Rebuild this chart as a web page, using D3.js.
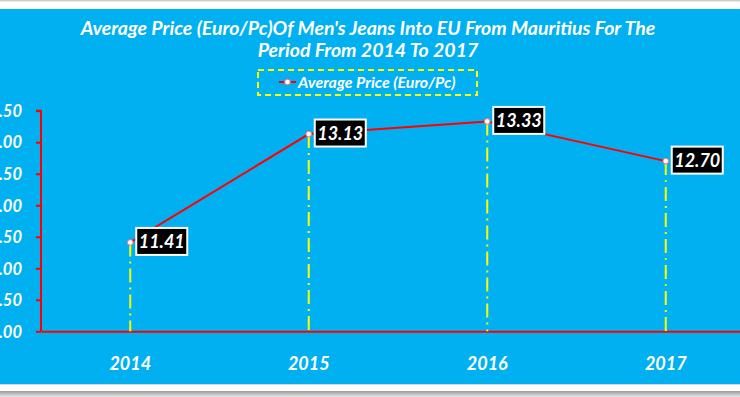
<!DOCTYPE html>
<html><head><meta charset="utf-8">
<script src="https://cdn.jsdelivr.net/npm/d3@7"></script>
<style>body{margin:0;background:#fff}svg{display:block}text{font-family:Lato,"Open Sans",sans-serif;font-weight:bold;font-style:italic;fill:#fff}</style>
</head><body>
<script>
const categories = ["2014", "2015", "2016", "2017"];
const values = [11.41, 13.13, 13.33, 12.70];
const yTicks = [10.00, 10.50, 11.00, 11.50, 12.00, 12.50, 13.00, 13.50];
const titleLines = ["Average Price (Euro/Pc)Of Men's Jeans Into EU From Mauritius For The", "Period From 2014 To 2017"];
const seriesName = "Average Price (Euro/Pc)";

const W = 740, H = 397;
const svg = d3.select("body").append("svg").attr("width", W).attr("height", H);
const defs = svg.append("defs");
const g1 = defs.append("linearGradient").attr("id","shadow").attr("x1",0).attr("x2",0).attr("y1",0).attr("y2",1);
g1.append("stop").attr("offset","0%").attr("stop-color","#9a9a9a");
g1.append("stop").attr("offset","100%").attr("stop-color","#e8e8e8");

svg.append("rect").attr("x",0).attr("y",0).attr("width",W).attr("height",H).attr("fill","#fff");
svg.append("rect").attr("x",0).attr("y",0).attr("width",W).attr("height",1.5).attr("fill","#d0d0d0");
svg.append("rect").attr("x",0).attr("y",9).attr("width",W).attr("height",375).attr("fill","#00B0F0");
svg.append("rect").attr("x",0).attr("y",384).attr("width",W).attr("height",1).attr("fill","#d8d8d8");
svg.append("rect").attr("x",0).attr("y",391).attr("width",W).attr("height",6).attr("fill","url(#shadow)");

// Title
svg.append("g").selectAll("text").data(titleLines).join("text")
  .attr("x", 368).attr("y", (d,i) => 35 + i*22)
  .attr("text-anchor","middle").attr("font-size", 19.5).text(d => d);

// Legend
const lg = svg.append("g");
lg.append("rect").attr("x",258).attr("y",70).attr("width",219).attr("height",25)
  .attr("fill","none").attr("stroke","#FFFF00").attr("stroke-width",2).attr("stroke-dasharray","6,4");
lg.append("line").attr("x1",279).attr("x2",296).attr("y1",82).attr("y2",82).attr("stroke","#FF0000").attr("stroke-width",2);
lg.append("circle").attr("cx",287.5).attr("cy",82).attr("r",2.8).attr("fill","#fff").attr("stroke","#ff7070").attr("stroke-width",1);
lg.append("text").attr("x",298).attr("y",88).attr("font-size",16).text(seriesName);

// Scales
const x = d3.scaleBand().domain(categories).range([41, 41 + 4*178.5]);
const y = d3.scaleLinear().domain([10, 13.5]).range([331.3, 110.7]);
const cx = d => x(d) + x.bandwidth()/2;

// Y axis
const yAxis = svg.append("g").attr("transform","translate(41,0)")
  .call(d3.axisLeft(y).tickValues(yTicks).tickFormat(d3.format(".2f")).tickSize(5).tickPadding(14));
yAxis.select(".domain").attr("stroke","#FF0000").attr("stroke-width",2).attr("d","M-5,110.7H0V331.3");
yAxis.selectAll(".tick line").attr("stroke","#FF0000").attr("stroke-width",2);
yAxis.selectAll(".tick text").attr("font-size",16.5).attr("fill","#fff").attr("dy","0.35em")
  .style("font-family","Lato, sans-serif").style("font-weight","bold").style("font-style","italic");

// X axis
const xAxis = svg.append("g").attr("transform","translate(0,331.3)")
  .call(d3.axisBottom(x).tickSize(0).tickPadding(26));
xAxis.select(".domain").attr("stroke","#FF0000").attr("stroke-width",2);
xAxis.selectAll(".tick text").attr("font-size",18).attr("fill","#fff")
  .style("font-family","Lato, sans-serif").style("font-weight","bold").style("font-style","italic");

// Drop lines
svg.append("g").selectAll("line").data(categories).join("line")
  .attr("x1", d => cx(d)).attr("x2", d => cx(d))
  .attr("y1", (d,i) => y(values[i])).attr("y2", y(10))
  .attr("stroke","#FFFF00").attr("stroke-width",2).attr("stroke-dasharray","14,5,2,5");

// Line
const line = d3.line().x((d,i) => cx(categories[i])).y(d => y(d));
svg.append("path").datum(values).attr("d", line).attr("fill","none").attr("stroke","#FF0000").attr("stroke-width",2);

// Markers
svg.append("g").selectAll("circle").data(values).join("circle")
  .attr("cx",(d,i) => cx(categories[i])).attr("cy", d => y(d)).attr("r",2.8)
  .attr("fill","#fff").attr("stroke","#ff7070").attr("stroke-width",1);

// Labels
const lab = svg.append("g").selectAll("g").data(values).join("g")
  .attr("transform",(d,i) => `translate(${cx(categories[i]) + 6},${y(d) - 1})`);
lab.append("rect").attr("x",0).attr("y",-13.5).attr("width",51).attr("height",27)
  .attr("fill","#000").attr("stroke","#fff").attr("stroke-width",2);
lab.append("text").attr("x",25.5).attr("y",0).attr("dy","0.36em").attr("text-anchor","middle")
  .attr("font-size",18).text(d => d.toFixed(2));
</script>
</body></html>
